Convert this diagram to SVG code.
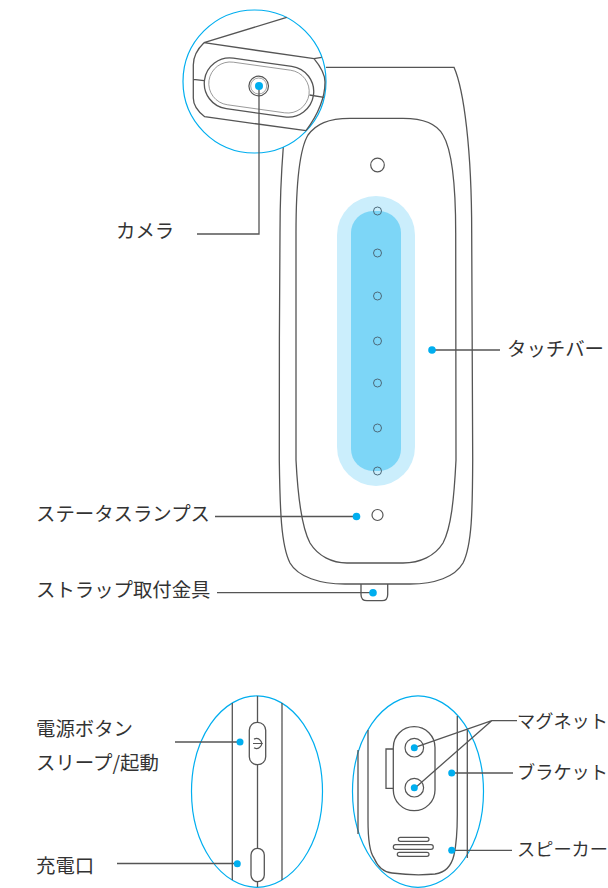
<svg xmlns="http://www.w3.org/2000/svg" width="608" height="888" viewBox="0 0 608 888">
<style>
.l{fill:none;stroke:#555;stroke-width:1.3}
.t{fill:none;stroke:#888;stroke-width:.8}
.r{fill:none;stroke:#00aeef;stroke-width:1.2}
.d{fill:#00aeef}
.c{fill:none;stroke:#555;stroke-width:1.2}
.s{fill:none;stroke:#4d6a7a;stroke-width:1}
text{font-family:"Noto Sans CJK JP","Noto Sans",sans-serif;font-size:19.4px;font-weight:400;fill:#333}
.e{font-size:18.2px}
</style>
<rect width="608" height="888" fill="#fff"/>
<g id="device">
<path class="l" d="M326 67.300H454C464 90 471.700 150 471.700 233C472.500 330 473 400 472.700 460C472.500 510 472 545 463 563C455 577 435 584 410 584H345C320 584 298 577 290 563C281 545 280 510 279.300 460C279 400 279.500 300 280 233C280 200 281.500 170 283.300 147"/>
<path class="l" d="M350 118.300H403C425 118.300 437 124 443 135C452 150 455.700 180 455.700 233C456.500 320 456.500 400 456 460C454 500 451 528 443 543C435 556 420 563 403 563H347C332 563 318 556 310 543C302 528 298 500 296 460C295.500 400 295.500 320 296 233C296 185 299 150 308 135C316 124 328 118.300 350 118.300Z"/>
</g>
<g id="touch-bar">
<rect x="337" y="196" width="78" height="290" rx="39" fill="#cbeefc"/>
<rect x="351" y="211" width="50" height="260" rx="22" fill="#7dd6f7"/>
<circle class="s" cx="377.500" cy="211" r="4"/>
<circle class="s" cx="377.500" cy="253" r="4"/>
<circle class="s" cx="377.500" cy="296" r="4"/>
<circle class="s" cx="377.500" cy="341" r="4"/>
<circle class="s" cx="377.500" cy="383" r="4"/>
<circle class="s" cx="377.500" cy="428" r="4"/>
<circle class="s" cx="377.500" cy="471" r="4"/>
</g>
<g id="top-hole"><circle class="c" cx="377.500" cy="165" r="6.800"/></g>
<g id="status-lamp"><circle class="c" cx="377.500" cy="515" r="5.500"/></g>
<g id="strap-mount"><path class="l" d="M361 584V594.500Q361 600.700 367 600.700H382Q387.700 600.700 387.700 594.500V584"/></g>
<g id="camera-detail">
<circle cx="254.500" cy="81.500" r="71.500" fill="#fff" stroke="#00aeef" stroke-width="1.200"/>
<path class="l" d="M286.700 17.300L204 42.700L314 58.700L321.700 57.300M204 42.700Q193.300 53 193.300 65V98Q193.300 108 204.700 116.700L306 130.700M314 58.700Q325 72 325 82Q325 105 306 130.700M193.500 79.300L204 80.700M309.500 95L324 97.300"/>
<rect class="l" x="204" y="62" width="110" height="51" rx="25.500" transform="rotate(8 259 87.500)"/>
<rect class="t" x="208.500" y="66" width="101" height="43" rx="21.500" transform="rotate(8 259 87.500)"/>
<circle cx="258.700" cy="86" r="9.800" fill="#fff" stroke="#555" stroke-width="1.200"/>
<circle class="t" cx="258.700" cy="86" r="8"/>
</g>
<g id="power-detail">
<ellipse class="r" cx="257" cy="791.600" rx="65.500" ry="95.700"/>
<path class="l" d="M232.300 703V880M282 703V880M257.500 696V722.300M257.500 764.700V848.300M257.500 881.700V887"/>
<rect class="l" x="249.300" y="722.300" width="16.400" height="42.400" rx="8"/>
<rect class="l" x="251" y="848.300" width="13.300" height="33.400" rx="6.600"/>
<path class="c" d="M254 739.200A5 5 0 1 1 254 747.800M253 743.500H262.800" stroke-width="1"/>
</g>
<g id="back-detail">
<ellipse class="r" cx="418" cy="791.600" rx="65.500" ry="95.700"/>
<path class="l" d="M358 750V834M467.300 730V858M368 730V820Q368 850 374 858Q380 872 392 873Q415 876 435 874Q450 872 454 855Q457.300 840 457.300 815V716"/>
<rect class="l" x="393.300" y="726.700" width="41.700" height="84" rx="20.800"/>
<path class="l" d="M393.300 749H386V788.300H393.300"/>
<circle class="c" cx="414.300" cy="747.700" r="9.300"/>
<circle class="c" cx="414.300" cy="787.700" r="9.300"/>
<rect class="c" x="398.300" y="837.300" width="30.700" height="4" rx="2"/>
<rect class="c" x="393.300" y="844.700" width="40" height="4.600" rx="2.300"/>
<rect class="c" x="397.300" y="852.300" width="31.700" height="4" rx="2"/>
</g>
<g id="connectors">
<path class="l" d="M197 234H259V86"/>
<path class="l" d="M215 516.500H356.500"/>
<path class="l" d="M217 592.700H373"/>
<path class="l" d="M432 350H500"/>
<path class="l" d="M175 742H240"/>
<path class="l" d="M117 863.500H237"/>
<path class="l" d="M414.300 747.700L491.700 720.700H517M415.300 787.700L491.700 720.700"/>
<path class="l" d="M451.700 773H513"/>
<path class="l" d="M451.700 850.300H512"/>
<circle class="d" cx="259" cy="86" r="4"/>
<circle class="d" cx="356.500" cy="516.500" r="3.800"/>
<circle class="d" cx="373" cy="592.700" r="3.800"/>
<circle class="d" cx="432" cy="350" r="3.800"/>
<circle class="d" cx="240" cy="742" r="3.500"/>
<circle class="d" cx="237.300" cy="863.700" r="3.500"/>
<circle class="d" cx="414.300" cy="747.700" r="3.500"/>
<circle class="d" cx="414.300" cy="787.700" r="3.500"/>
<circle class="d" cx="451.700" cy="773" r="3.500"/>
<circle class="d" cx="451.700" cy="850.300" r="3.500"/>
</g>
<g id="labels">
<text x="116" y="238">カメラ</text>
<text x="507" y="356">タッチバー</text>
<text x="36" y="521">ステータスランプス</text>
<text x="36" y="597">ストラップ取付金具</text>
<text x="36" y="736">電源ボタン</text>
<text x="36" y="770">スリープ/起動</text>
<text x="36" y="873">充電口</text>
<text class="e" x="517" y="728">マグネット</text>
<text class="e" x="517" y="779">ブラケット</text>
<text class="e" x="517" y="856">スピーカー</text>
</g>
</svg>
